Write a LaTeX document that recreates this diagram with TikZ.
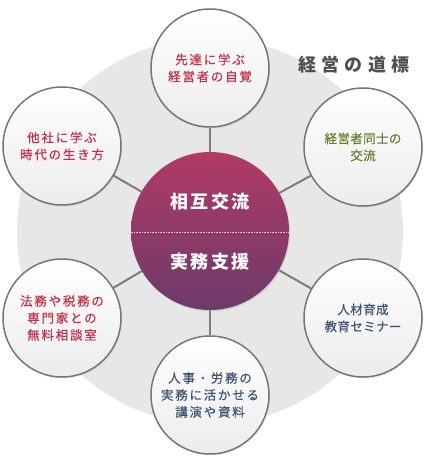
\documentclass[tikz,border=0pt]{standalone}
\usepackage{fontspec}
\usepackage{xcolor}
\usetikzlibrary{shadows}
\newfontfamily\jpfont{Noto Sans CJK JP}
\definecolor{discgray}{RGB}{231,231,231}
\definecolor{ringgray}{RGB}{118,118,118}
\definecolor{spokegray}{RGB}{125,125,125}
\definecolor{satbottom}{RGB}{236,236,236}
\definecolor{hubtop}{RGB}{178,58,102}
\definecolor{hubbottom}{RGB}{108,58,105}
\definecolor{textred}{RGB}{196,48,72}
\definecolor{textgreen}{RGB}{98,128,44}
\definecolor{textblue}{RGB}{60,85,115}
\definecolor{titlegray}{RGB}{80,80,80}
\tikzset{
  satellite/.style={
    circle,
    draw=ringgray,
    line width=1.5pt,
    minimum size=118pt,
    inner sep=0pt,
    align=center,
    top color=white,
    bottom color=satbottom,
    drop shadow={opacity=0.18, shadow xshift=1pt, shadow yshift=-1.5pt}
  },
  wide/.style={font={\fontsize{12.5}{17}\jpfont\addfontfeature{LetterSpace=14, FakeBold=0.4}}},
  tight/.style={font={\fontsize{12.5}{17}\jpfont\addfontfeature{LetterSpace=3, FakeBold=0.4}}},
  hub/.style={
    circle,
    minimum size=158pt,
    inner sep=0pt,
    top color=hubtop,
    bottom color=hubbottom,
    drop shadow={opacity=0.2, shadow xshift=1pt, shadow yshift=-1.5pt}
  },
  hublabel/.style={
    text=white,
    font={\fontsize{18}{20}\jpfont\bfseries\addfontfeature{LetterSpace=12}}
  },
  spoke/.style={draw=spokegray, line width=2pt},
  divider/.style={draw=white, densely dotted, line width=0.6pt, opacity=0.7}
}
\begin{document}
\begin{tikzpicture}[x=1pt, y=-1pt]
  \useasboundingbox (0,0) rectangle (427,462);
  \fill[discgray] (210,231) circle (193);

  \node[hub] (hub) at (210,231) {};
  \draw[divider] ([yshift=-1pt]hub.west) -- ([yshift=-1pt]hub.east);
  \node[hublabel] (hubup) at (210,202) {相互交流};
  \node[hublabel] (hubdown) at (210,262) {実務支援};

  \node[satellite, wide, text=textred] (senior) at (210,68) {先達に学ぶ\\経営者の自覚};
  \node[satellite, tight, text=textgreen] (peers) at (363,147) {経営者同士の\\交流};
  \node[satellite, tight, text=textblue] (training) at (363,318) {人材育成\\教育セミナー};
  \node[satellite, wide, text=textblue] (lecture) at (210,395) {人事・労務の\\実務に活かせる\\講演や資料};
  \node[satellite, wide, text=textred] (advice) at (62,318) {法務や税務の\\専門家との\\無料相談室};
  \node[satellite, wide, text=textred] (others) at (62,146) {他社に学ぶ\\時代の生き方};

  \draw[spoke] (hub) -- (senior);
  \draw[spoke] (hub) -- (peers);
  \draw[spoke] (hub) -- (training);
  \draw[spoke] (hub) -- (lecture);
  \draw[spoke] (hub) -- (advice);
  \draw[spoke] (hub) -- (others);

  \node[text=titlegray, font={\fontsize{18}{20}\jpfont\bfseries\addfontfeature{LetterSpace=28}}] (heading) at (354,65) {経営の道標};
\end{tikzpicture}
\end{document}
